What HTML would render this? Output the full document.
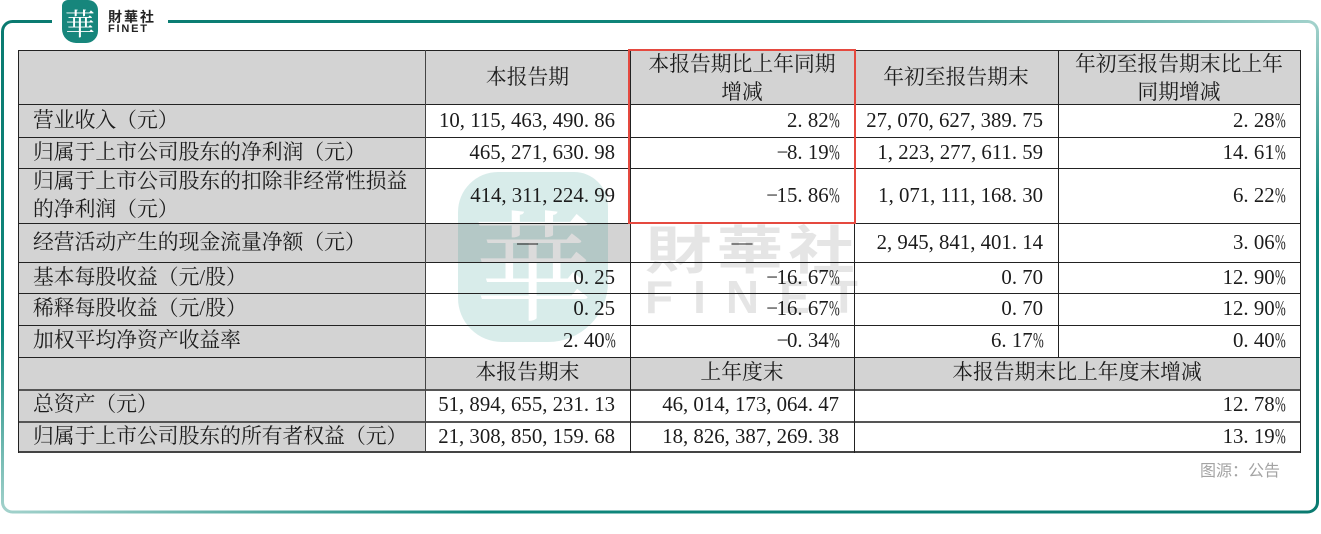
<!DOCTYPE html>
<html><head><meta charset="utf-8">
<style>
*{margin:0;padding:0;box-sizing:border-box}
html,body{width:1321px;height:534px;background:#fff;overflow:hidden;position:relative}
.bg{position:absolute;background:#d3d3d3}
.hl{position:absolute;left:18px;width:1283px;height:1px;background:#222}
.vl{position:absolute;width:1px;background:#222}
.c{position:absolute;display:flex;align-items:center;font-family:"Liberation Serif","Noto Serif CJK SC",serif;font-size:20.8px;color:#1c1c1c;white-space:nowrap;line-height:28px}
.l{justify-content:flex-start;padding-left:15px}
.r{justify-content:flex-end;padding-right:15px}
.m{justify-content:center;text-align:center}
.n i{font-style:normal;display:inline-block;width:10.4px;text-align:left}
.n b{font-weight:normal;display:inline-block;width:10.4px;transform:scale(0.62,1.08);transform-origin:left center}
.n s{text-decoration:none;display:inline-block;width:10.4px;text-align:left}
</style></head><body>

<!-- frame -->
<svg width="1321" height="534" style="position:absolute;left:0;top:0">
<defs>
<linearGradient id="g" gradientUnits="userSpaceOnUse" x1="496" y1="-173" x2="824" y2="707">
<stop offset="0" stop-color="#0a7a70"/>
<stop offset="0.32" stop-color="#0f877c"/>
<stop offset="0.5" stop-color="#a3d2cc"/>
<stop offset="0.68" stop-color="#0f877c"/>
<stop offset="1" stop-color="#0a7a70"/>
</linearGradient>
</defs>
<path d="M52 21.5 L12.5 21.5 A10 10 0 0 0 2.5 31.5 L2.5 502 A10 10 0 0 0 12.5 512 L1307.5 512 A10 10 0 0 0 1317.5 502 L1317.5 31.5 A10 10 0 0 0 1307.5 21.5 L168 21.5" fill="none" stroke="url(#g)" stroke-width="3"/>
</svg>

<!-- top logo -->
<div style="position:absolute;left:62px;top:0;width:36px;height:43px;background:#17867c;border-radius:6px 10px 12px 14px;"></div>
<div style="position:absolute;left:62px;top:2px;width:36px;height:40px;color:#fff;font-family:'Noto Serif CJK SC',serif;font-size:30px;line-height:40px;text-align:center">華</div>
<div style="position:absolute;left:108px;top:9px;font-family:'Noto Sans CJK SC',sans-serif;font-weight:bold;font-size:14px;line-height:16px;color:#222;letter-spacing:2px">財華社</div>
<div style="position:absolute;left:108px;top:25px;font-family:'Liberation Sans',sans-serif;font-weight:bold;font-size:11px;line-height:9px;color:#222;letter-spacing:1.8px">FINET</div>

<!-- backgrounds -->
<div class="bg" style="left:18px;top:50px;width:1283px;height:54px"></div>
<div class="bg" style="left:18px;top:50px;width:407px;height:402px"></div>
<div class="bg" style="left:18px;top:223px;width:612px;height:39px"></div>
<div class="bg" style="left:18px;top:357px;width:1283px;height:32px"></div>

<!-- watermark -->
<div style="position:absolute;left:458px;top:172px;width:150px;height:170px;opacity:0.18">
<div style="position:absolute;left:0;top:0;width:150px;height:170px;background:#2f9a90;border-radius:40px 34px 60px 44px"></div>
<div style="position:absolute;left:0;top:8px;width:150px;height:160px;color:#fff;font-family:'Noto Serif CJK SC',serif;font-size:120px;line-height:160px;text-align:center">華</div>
</div>
<div style="position:absolute;left:645px;top:215px;font-family:'Noto Sans CJK SC',sans-serif;font-weight:bold;font-size:52px;line-height:64px;color:rgba(0,0,0,0.1);transform:scaleX(1.28);transform-origin:left top;letter-spacing:4px">財華社</div>
<div style="position:absolute;left:645px;top:274px;font-family:'Liberation Sans',sans-serif;font-weight:bold;font-size:46px;line-height:46px;color:rgba(0,0,0,0.1);letter-spacing:20px">FINET</div>

<!-- lines -->
<div class="hl" style="top:50px"></div>
<div class="hl" style="top:104px"></div>
<div class="hl" style="top:137px"></div>
<div class="hl" style="top:168px"></div>
<div class="hl" style="top:223px"></div>
<div class="hl" style="top:262px"></div>
<div class="hl" style="top:293px"></div>
<div class="hl" style="top:325px"></div>
<div class="hl" style="top:357px"></div>
<div class="hl" style="top:389px;height:2px;background:#555"></div>
<div class="hl" style="top:421px;height:2px;background:#555"></div>
<div class="hl" style="top:451px;height:2px;background:#444"></div>
<div class="vl" style="left:18px;top:50px;height:403px"></div>
<div class="vl" style="left:425px;top:50px;height:403px;background:#444"></div>
<div class="vl" style="left:630px;top:50px;height:403px"></div>
<div class="vl" style="left:854px;top:50px;height:403px"></div>
<div class="vl" style="left:1058px;top:50px;height:307px"></div>
<div class="vl" style="left:1300px;top:50px;height:403px"></div>

<!-- header -->
<div class="c m" style="left:425px;top:51px;width:205px;height:54px">本报告期</div>
<div class="c m" style="left:630px;top:52px;width:224px;height:54px">本报告期比上年同期<br>增减</div>
<div class="c m" style="left:854px;top:51px;width:204px;height:54px">年初至报告期末</div>
<div class="c m" style="left:1058px;top:52px;width:242px;height:54px">年初至报告期末比上年<br>同期增减</div>

<!-- labels -->
<div class="c l" style="left:18px;top:104px;width:407px;height:33px">营业收入（元）</div>
<div class="c l" style="left:18px;top:137px;width:407px;height:31px">归属于上市公司股东的净利润（元）</div>
<div class="c l" style="left:18px;top:168px;width:407px;height:55px">归属于上市公司股东的扣除非经常性损益<br>的净利润（元）</div>
<div class="c l" style="left:18px;top:223px;width:407px;height:39px">经营活动产生的现金流量净额（元）</div>
<div class="c l" style="left:18px;top:262px;width:407px;height:31px">基本每股收益（元/股）</div>
<div class="c l" style="left:18px;top:293px;width:407px;height:32px">稀释每股收益（元/股）</div>
<div class="c l" style="left:18px;top:325px;width:407px;height:32px">加权平均净资产收益率</div>
<div class="c l" style="left:18px;top:389px;width:407px;height:32px">总资产（元）</div>
<div class="c l" style="left:18px;top:421px;width:407px;height:31px">归属于上市公司股东的所有者权益（元）</div>

<!-- row1 -->
<div class="c r n" style="left:425px;top:104px;width:205px;height:33px">10<i>,</i>115<i>,</i>463<i>,</i>490<i>.</i>86</div>
<div class="c r n" style="left:630px;top:104px;width:224px;height:33px">2<i>.</i>82<b>%</b></div>
<div class="c r n" style="left:854px;top:104px;width:204px;height:33px">27<i>,</i>070<i>,</i>627<i>,</i>389<i>.</i>75</div>
<div class="c r n" style="left:1058px;top:104px;width:242px;height:33px">2<i>.</i>28<b>%</b></div>
<!-- row2 -->
<div class="c r n" style="left:425px;top:137px;width:205px;height:31px">465<i>,</i>271<i>,</i>630<i>.</i>98</div>
<div class="c r n" style="left:630px;top:137px;width:224px;height:31px"><s>−</s>8<i>.</i>19<b>%</b></div>
<div class="c r n" style="left:854px;top:137px;width:204px;height:31px">1<i>,</i>223<i>,</i>277<i>,</i>611<i>.</i>59</div>
<div class="c r n" style="left:1058px;top:137px;width:242px;height:31px">14<i>.</i>61<b>%</b></div>
<!-- row3 -->
<div class="c r n" style="left:425px;top:168px;width:205px;height:55px">414<i>,</i>311<i>,</i>224<i>.</i>99</div>
<div class="c r n" style="left:630px;top:168px;width:224px;height:55px"><s>−</s>15<i>.</i>86<b>%</b></div>
<div class="c r n" style="left:854px;top:168px;width:204px;height:55px">1<i>,</i>071<i>,</i>111<i>,</i>168<i>.</i>30</div>
<div class="c r n" style="left:1058px;top:168px;width:242px;height:55px">6<i>.</i>22<b>%</b></div>
<!-- row4 -->
<div class="c m" style="left:425px;top:223px;width:205px;height:39px">—</div>
<div class="c m" style="left:630px;top:223px;width:224px;height:39px">—</div>
<div class="c r n" style="left:854px;top:223px;width:204px;height:39px">2<i>,</i>945<i>,</i>841<i>,</i>401<i>.</i>14</div>
<div class="c r n" style="left:1058px;top:223px;width:242px;height:39px">3<i>.</i>06<b>%</b></div>
<!-- row5 -->
<div class="c r n" style="left:425px;top:262px;width:205px;height:31px">0<i>.</i>25</div>
<div class="c r n" style="left:630px;top:262px;width:224px;height:31px"><s>−</s>16<i>.</i>67<b>%</b></div>
<div class="c r n" style="left:854px;top:262px;width:204px;height:31px">0<i>.</i>70</div>
<div class="c r n" style="left:1058px;top:262px;width:242px;height:31px">12<i>.</i>90<b>%</b></div>
<!-- row6 -->
<div class="c r n" style="left:425px;top:293px;width:205px;height:32px">0<i>.</i>25</div>
<div class="c r n" style="left:630px;top:293px;width:224px;height:32px"><s>−</s>16<i>.</i>67<b>%</b></div>
<div class="c r n" style="left:854px;top:293px;width:204px;height:32px">0<i>.</i>70</div>
<div class="c r n" style="left:1058px;top:293px;width:242px;height:32px">12<i>.</i>90<b>%</b></div>
<!-- row7 -->
<div class="c r n" style="left:425px;top:325px;width:205px;height:32px">2<i>.</i>40<b>%</b></div>
<div class="c r n" style="left:630px;top:325px;width:224px;height:32px"><s>−</s>0<i>.</i>34<b>%</b></div>
<div class="c r n" style="left:854px;top:325px;width:204px;height:32px">6<i>.</i>17<b>%</b></div>
<div class="c r n" style="left:1058px;top:325px;width:242px;height:32px">0<i>.</i>40<b>%</b></div>
<!-- subheader -->
<div class="c m" style="left:425px;top:357px;width:205px;height:32px">本报告期末</div>
<div class="c m" style="left:630px;top:357px;width:224px;height:32px">上年度末</div>
<div class="c m" style="left:854px;top:357px;width:446px;height:32px">本报告期末比上年度末增减</div>
<!-- row8 -->
<div class="c r n" style="left:425px;top:389px;width:205px;height:32px">51<i>,</i>894<i>,</i>655<i>,</i>231<i>.</i>13</div>
<div class="c r n" style="left:630px;top:389px;width:224px;height:32px">46<i>,</i>014<i>,</i>173<i>,</i>064<i>.</i>47</div>
<div class="c r n" style="left:854px;top:389px;width:446px;height:32px">12<i>.</i>78<b>%</b></div>
<!-- row9 -->
<div class="c r n" style="left:425px;top:421px;width:205px;height:31px">21<i>,</i>308<i>,</i>850<i>,</i>159<i>.</i>68</div>
<div class="c r n" style="left:630px;top:421px;width:224px;height:31px">18<i>,</i>826<i>,</i>387<i>,</i>269<i>.</i>38</div>
<div class="c r n" style="left:854px;top:421px;width:446px;height:31px">13<i>.</i>19<b>%</b></div>

<!-- red box -->
<div style="position:absolute;left:628px;top:49px;width:228px;height:175px;border:2px solid #e5493f"></div>

<!-- source -->
<div style="position:absolute;left:1200px;top:459px;font-family:'Noto Sans CJK SC',sans-serif;font-size:16px;line-height:20px;color:#a3a3a3">图源：公告</div>

</body></html>
